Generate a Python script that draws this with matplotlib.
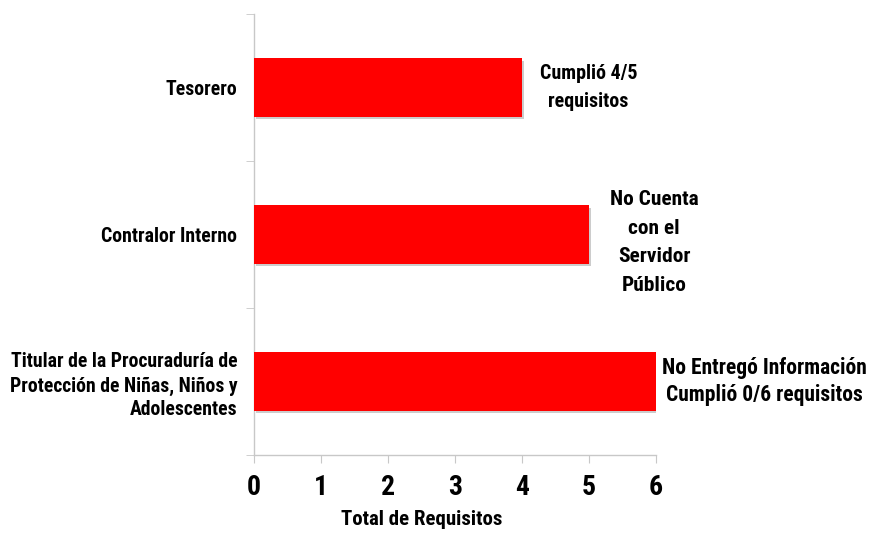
import matplotlib.pyplot as plt
import matplotlib.patheffects as pe

categorias = [
    "Titular de la Procuraduría de\nProtección de Niñas, Niños y\nAdolescentes",
    "Contralor Interno",
    "Tesorero",
]
requisitos = [6, 5, 4]
etiquetas = [
    "No Entregó Información\nCumplió 0/6 requisitos",
    "No Cuenta\ncon el\nServidor\nPúblico",
    "Cumplió 4/5\nrequisitos",
]
xticks = [0, 1, 2, 3, 4, 5, 6]

plt.rcParams['font.family'] = ['Roboto Condensed', 'Open Sans Condensed', 'DejaVu Sans']
plt.rcParams['font.weight'] = 'bold'

fig = plt.figure(figsize=(8.71, 5.34), dpi=100)
ax = fig.add_axes([0.2916, 0.148, 0.4616, 0.8258])

pos = list(range(len(categorias)))
bars = ax.barh(pos, requisitos, height=0.395, color="#ff0000", zorder=3)
for b in bars:
    b.set_path_effects([pe.SimplePatchShadow(offset=(1.5, -1.5), shadow_rgbFace="#9a9a9a", alpha=0.5),
                        pe.Normal()])

# label layout (offsets / sizes only)
offs_x = [1.62, 0.97, 0.99]
offs_y = [0.0, -0.055, 0.0]
sizes = [15.5, 15.4, 14.4]
spacing = [1.32, 1.65, 1.55]
for i, (p, v, txt) in enumerate(zip(pos, requisitos, etiquetas)):
    ax.text(v + offs_x[i], p + offs_y[i], txt, ha="center", va="center", fontsize=sizes[i],
            fontweight="bold", linespacing=spacing[i], clip_on=False)

ax.set_xlim(0, 6)
ax.set_ylim(-0.5, 2.5)
ax.set_xticks(xticks)
ax.set_xticklabels([str(t) for t in xticks], fontsize=20, fontweight="bold")
ax.set_yticks(pos)
ax.set_yticklabels(categorias, fontsize=14.2, fontweight="bold", linespacing=1.33)
ax.set_yticks([-0.5, 0.5, 1.5, 2.5], minor=True)
ax.tick_params(axis="y", which="major", length=0, pad=12)
ax.tick_params(axis="y", which="minor", length=6, color="#c8c8c8")
ax.tick_params(axis="x", length=6, color="#c8c8c8", pad=8)
ax.set_xlabel("Total de Requisitos", fontsize=15, fontweight="bold")
ax.xaxis.set_label_coords(0.418, -0.125)

for s in ["top", "right"]:
    ax.spines[s].set_visible(False)
for s in ["left", "bottom"]:
    ax.spines[s].set_color("#c8c8c8")
    ax.spines[s].set_linewidth(1)

fig.savefig("out.png", dpi=100)
